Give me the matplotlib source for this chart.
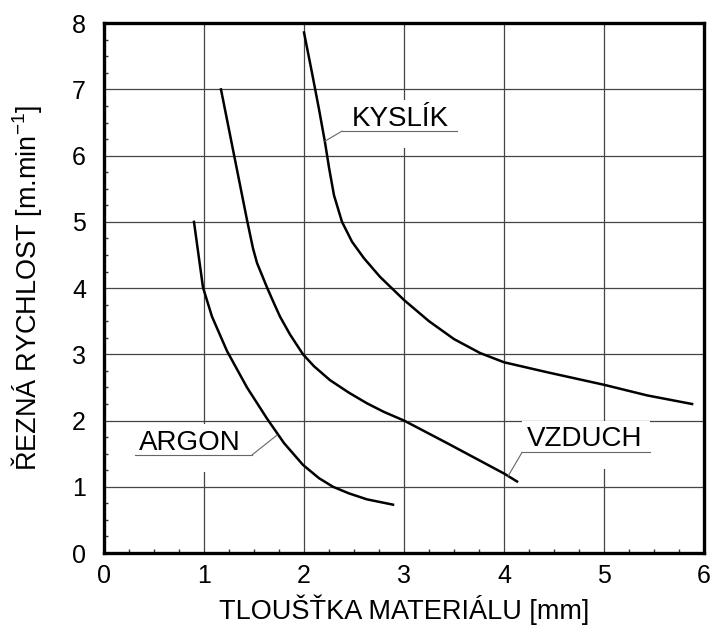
import matplotlib
matplotlib.use("Agg")
import matplotlib.pyplot as plt
from matplotlib.ticker import MultipleLocator
from matplotlib.patches import Rectangle

plt.rcParams['font.family'] = ['Liberation Sans', 'DejaVu Sans']
plt.rcParams['mathtext.fontset'] = 'custom'
plt.rcParams['mathtext.rm'] = 'Liberation Sans'
plt.rcParams['mathtext.it'] = 'Liberation Sans'

# curves: thickness [mm] vs cutting speed [m/min]
kyslik_x = [2.00, 2.08, 2.15, 2.21, 2.25, 2.30, 2.38, 2.48, 2.60, 2.76, 3.00, 3.25, 3.50,
            3.76, 4.00, 4.43, 5.00, 5.43, 5.88]
kyslik_y = [7.86, 7.25, 6.70, 6.20, 5.82, 5.40, 5.00, 4.70, 4.45, 4.17, 3.82, 3.50, 3.23,
            3.02, 2.88, 2.73, 2.54, 2.38, 2.25]

vzduch_x = [1.17, 1.29, 1.43, 1.49, 1.53, 1.63, 1.70, 1.76, 1.86, 1.99, 2.10, 2.26, 2.45,
            2.63, 2.80, 3.00, 3.43, 4.00, 4.13]
vzduch_y = [7.00, 6.09, 5.03, 4.60, 4.38, 4.01, 3.77, 3.57, 3.30, 3.00, 2.82, 2.61, 2.42,
            2.26, 2.13, 2.00, 1.66, 1.20, 1.08]

argon_x = [0.90, 0.99, 1.08, 1.23, 1.43, 1.63, 1.80, 1.99, 2.15, 2.29, 2.45, 2.63, 2.89]
argon_y = [5.00, 4.01, 3.57, 3.05, 2.50, 2.03, 1.66, 1.33, 1.13, 1.00, 0.90, 0.81, 0.73]

# labels: name, text pos, underline x-range + y, leader end point on curve
labels = [
    ("KYSLÍK", (2.96, 6.55), (2.38, 3.53, 6.37), (2.21, 6.22)),
    ("ARGON", (0.86, 1.66), (0.31, 1.48, 1.48), (1.73, 1.78)),
    ("VZDUCH", (4.81, 1.72), (4.18, 5.46, 1.52), (4.04, 1.16)),
]

x_ticks = [0, 1, 2, 3, 4, 5, 6]
y_ticks = [0, 1, 2, 3, 4, 5, 6, 7, 8]

fig = plt.figure(figsize=(7.17, 6.27), dpi=100)
ax = fig.add_axes([0.145, 0.118, 0.837, 0.845])

ax.set_xlim(0, 6)
ax.set_ylim(0, 8)
ax.set_xticks(x_ticks)
ax.set_yticks(y_ticks)
ax.xaxis.set_minor_locator(MultipleLocator(0.25))
ax.yaxis.set_minor_locator(MultipleLocator(0.25))
ax.tick_params(which='major', direction='in', length=0, labelsize=18)
ax.tick_params(axis='x', which='major', pad=8)
ax.tick_params(axis='y', which='major', pad=13)
ax.tick_params(which='minor', direction='in', length=3, width=1, color='#333333')

ax.set_axisbelow(True)
ax.grid(True, which='major', color='#444444', linewidth=0.9)

for s in ax.spines.values():
    s.set_linewidth(2.4)
    s.set_color('black')

ax.plot(kyslik_x, kyslik_y, color='black', lw=1.8, zorder=3)
ax.plot(vzduch_x, vzduch_y, color='black', lw=1.8, zorder=3)
ax.plot(argon_x, argon_y, color='black', lw=1.8, zorder=3)

for name, (tx, ty), (ux0, ux1, uy), (lx, ly) in labels:
    # white patch that breaks the grid under the label
    ax.add_patch(Rectangle((ux0, uy - 0.25), ux1 - ux0, 0.72, facecolor='white',
                           edgecolor='none', zorder=1))
    ax.text(tx, ty, name, fontsize=20, ha='center', va='center', zorder=4)
    ax.plot([ux0, ux1], [uy, uy], color='#666666', lw=0.8, zorder=4)
    ax.plot([ux0 if lx < ux0 else ux1, lx], [uy, ly], color='#666666', lw=0.8, zorder=4)

ax.set_xlabel("TLOUŠŤKA MATERIÁLU [mm]", fontsize=19.5)
ax.set_ylabel("ŘEZNÁ RYCHLOST [m.min$^{-1}$]", fontsize=19.5)
ax.xaxis.set_label_coords(0.5, -0.078)
ax.yaxis.set_label_coords(-0.10, 0.5)

fig.savefig("out.png", dpi=100)
